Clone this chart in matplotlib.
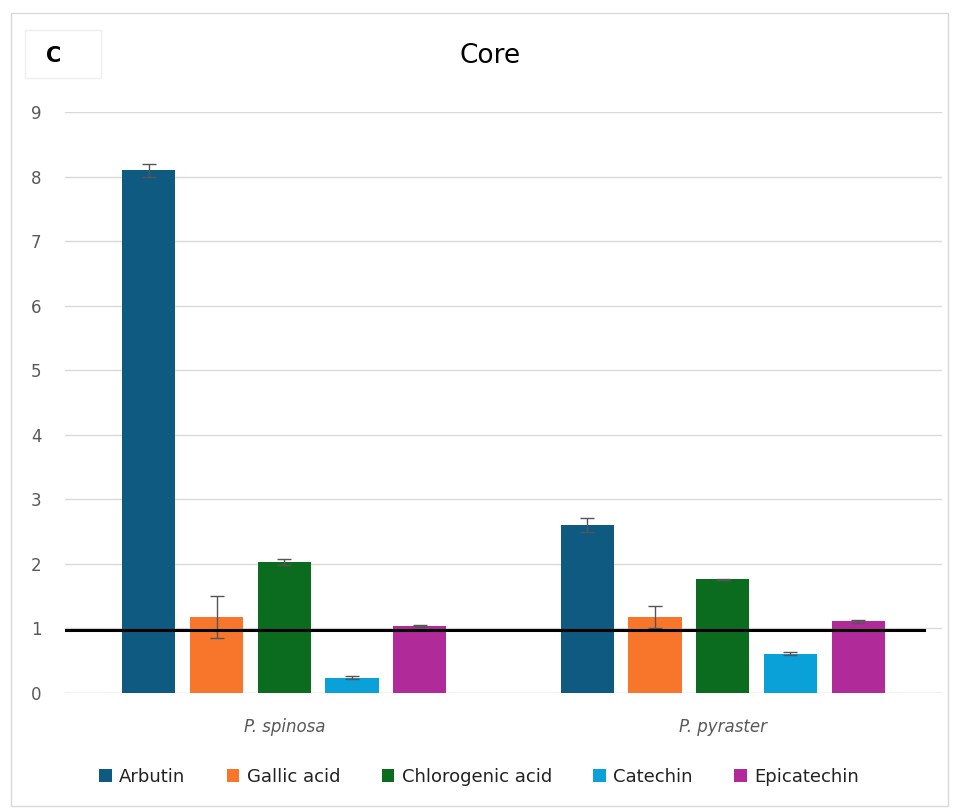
import numpy as np
import matplotlib.pyplot as plt
from matplotlib.patches import Rectangle

species = ['P. spinosa', 'P. pyraster']
compounds = ['Arbutin', 'Gallic acid', 'Chlorogenic acid', 'Catechin', 'Epicatechin']
colors = ['#0E5A80', '#F8762B', '#0B6B1F', '#0AA0D8', '#B02A99']

# values per compound: [P. spinosa, P. pyraster]
arbutin = [8.10, 2.60]
gallic_acid = [1.18, 1.18]
chlorogenic_acid = [2.03, 1.76]
catechin = [0.24, 0.61]
epicatechin = [1.04, 1.11]

arbutin_err = [0.10, 0.11]
gallic_acid_err = [0.33, 0.17]
chlorogenic_acid_err = [0.04, 0.01]
catechin_err = [0.02, 0.02]
epicatechin_err = [0.02, 0.02]

reference_level = 0.97

values = [arbutin, gallic_acid, chlorogenic_acid, catechin, epicatechin]
errors = [arbutin_err, gallic_acid_err, chlorogenic_acid_err, catechin_err, epicatechin_err]

fig = plt.figure(figsize=(9.58, 8.10), dpi=100)
ax = fig.add_axes([65 / 958, 1 - 693 / 810, (942 - 65) / 958, (693 - 112) / 810])

x = np.arange(len(species))
step = 0.1545
width = 0.121
for i, (name, vals, errs, col) in enumerate(zip(compounds, values, errors, colors)):
    pos = x + (i - 2) * step
    ax.bar(pos, vals, width, color=col, label=name, zorder=2)
    ax.errorbar(pos, vals, yerr=errs, fmt='none', ecolor='#555555',
                elinewidth=1, capsize=5, capthick=1, zorder=3)

ax.plot([-0.50, 1.46], [reference_level, reference_level], color='black', lw=2.2, zorder=4)

ax.set_xlim(-0.5, 1.5)
ax.set_ylim(0, 9)
ax.set_yticks(range(10))
ax.set_xticks(x)
ax.set_xticklabels(species, fontstyle='italic', color='#595959', fontsize=12)
ax.tick_params(axis='y', labelcolor='#595959', labelsize=12, length=0, pad=17)
ax.tick_params(axis='x', length=0, pad=18)
ax.grid(axis='y', color='#D9D9D9', lw=1, zorder=0)
for s in ax.spines.values():
    s.set_visible(False)
ax.axhline(0, color='#D9D9D9', lw=1, zorder=1)

fig.text(490 / 958, 1 - 56 / 810, 'Core', ha='center', va='center', fontsize=19, color='black')

# panel letter box
fig.patches.append(Rectangle((25 / 958, 1 - 78 / 810), 76 / 958, 48 / 810,
                             transform=fig.transFigure, fill=False, edgecolor='#EEEEEE', lw=1))
fig.text(54 / 958, 1 - 56 / 810, 'C', ha='center', va='center', fontsize=15, fontweight='bold')

# outer frame
fig.patches.append(Rectangle((11 / 958, 1 - 806 / 810), 937 / 958, 793 / 810,
                             transform=fig.transFigure, fill=False, edgecolor='#D9D9D9', lw=1))

fig.legend(loc='center', bbox_to_anchor=(0.5, 1 - 777 / 810), ncol=5, frameon=False,
           fontsize=13, handlelength=0.7, handleheight=0.7, handletextpad=0.4,
           columnspacing=2.3, labelcolor='#222222')

fig.savefig('out.png', dpi=100)
